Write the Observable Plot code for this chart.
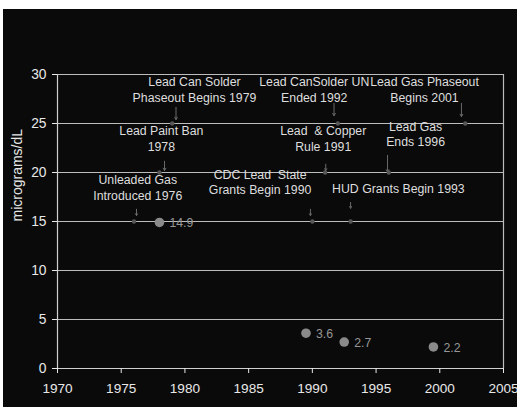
<!DOCTYPE html>
<html>
<head>
<meta charset="utf-8">
<script src="https://cdn.jsdelivr.net/npm/d3@7"></script>
<script src="https://cdn.jsdelivr.net/npm/@observablehq/plot@0.6"></script>
<style>
  html, body { margin: 0; padding: 0; background: #ffffff; }
  #chart {
    position: absolute; left: 3px; top: 9px;
    width: 514px; height: 398px; background: #0a0a0a;
  }
  #chart svg { background: #0a0a0a; font-family: "Liberation Sans", Arial, sans-serif; overflow: visible; }
  #chart svg text { white-space: pre; }
</style>
</head>
<body>
<div id="chart"></div>
<script>
// Policy milestones (year, marker level, annotation text)
const eventYears  = [1976, 1978, 1979, 1990, 1991, 1992, 1993, 1996, 2002];
const eventLevels = [15, 20, 25, 15, 20, 25, 15, 20, 25];
const eventLabels = [
  "Unleaded Gas\nIntroduced 1976",
  "Lead Paint Ban\n1978",
  "Lead Can Solder\nPhaseout Begins 1979",
  "CDC Lead  State\nGrants Begin 1990",
  "Lead  & Copper\nRule 1991",
  "Lead CanSolder UN\nEnded 1992",
  "HUD Grants Begin 1993",
  "Lead Gas\nEnds 1996",
  "Lead Gas Phaseout\nBegins 2001"
];

// Mean blood lead readings (micrograms/dL)
const readingYears  = [1978, 1989.5, 1992.5, 1999.5];
const readingValues = [14.9, 3.6, 2.7, 2.2];

// Axis ticks
const xTicks = [1970, 1975, 1980, 1985, 1990, 1995, 2000, 2005];
const yTicks = [0, 5, 10, 15, 20, 25, 30];

// Annotation placement: label centre (in axis units) and arrow offsets
const labelX   = [1976.3, 1978.15, 1980.75, 1985.9, 1990.85, 1990.15, 1996.75, 1998.1, 1998.8];
const labelY   = [18.5, 23.55, 28.5, 19.1, 23.55, 28.5, 18.4, 24.0, 28.5];
const arrowDx  = [0.2, 0.4, 0.3, -0.15, 0.05, -0.3, 0, -0.1, -0.3];
const arrowTop = [1.25, 1.15, 1.65, 1.25, 0.85, 2.05, 1.95, 1.75, 2.05];
const arrowEnd = [0.6, 0.2, 0.4, 0.6, 0.2, 0.8, 1.35, 0.05, 0.7];

const events = eventYears.map((year, i) => ({
  year, level: eventLevels[i], label: eventLabels[i],
  lx: labelX[i], ly: labelY[i],
  ax: year + arrowDx[i], ay1: eventLevels[i] + arrowTop[i], ay2: eventLevels[i] + arrowEnd[i]
}));
const readings = readingYears.map((year, i) => ({year, value: readingValues[i]}));

const grid = "#bdbdbd";
const textColor = "#dedede";

const chart = Plot.plot({
  width: 514,
  height: 398,
  marginLeft: 54,
  marginRight: 14,
  marginTop: 65,
  marginBottom: 39,
  style: {background: "#0a0a0a", color: textColor},
  x: {domain: [1970, 2005]},
  y: {domain: [0, 30]},
  marks: [
    Plot.ruleY(yTicks.filter(d => d > 0), {stroke: grid, strokeWidth: 1.2}),
    Plot.ruleY([0], {stroke: "#d0d0d0", strokeWidth: 1.2}),
    Plot.ruleX([1970], {stroke: "#d0d0d0", strokeWidth: 1.2}),
    Plot.ruleX([2005], {stroke: grid, strokeWidth: 1.2}),
    Plot.axisX({ticks: xTicks, tickFormat: d => String(d), tickSize: 5, tickPadding: 10,
      fontSize: 13.6, color: "#e8e8e8", label: null}),
    Plot.axisY({ticks: yTicks, tickSize: 5, tickPadding: 6,
      fontSize: 13.8, color: "#e8e8e8", label: null}),
    Plot.text(["micrograms/dL"], {frameAnchor: "left", rotate: -90, dx: -40,
      fontSize: 14, fill: "#e6e6e6"}),
    Plot.arrow(events, {x1: "ax", x2: "ax", y1: "ay1", y2: "ay2",
      stroke: "#6a6a6a", strokeWidth: 1, headLength: 4}),
    Plot.dot(events, {x: "year", y: "level", r: 2.2, fill: "#575757"}),
    Plot.text(events, {x: "lx", y: "ly", text: "label", fontSize: 12.3,
      lineHeight: 1.27, fill: textColor}),
    Plot.dot(readings, {x: "year", y: "value", r: 4.8, fill: "#8a8a8a"}),
    Plot.text(readings, {x: "year", y: "value", text: d => d.value.toFixed(1),
      dx: 10, dy: 1, textAnchor: "start", fontSize: 12.3, fill: "#969696"})
  ]
});

document.getElementById("chart").appendChild(chart);
</script>
</body>
</html>
